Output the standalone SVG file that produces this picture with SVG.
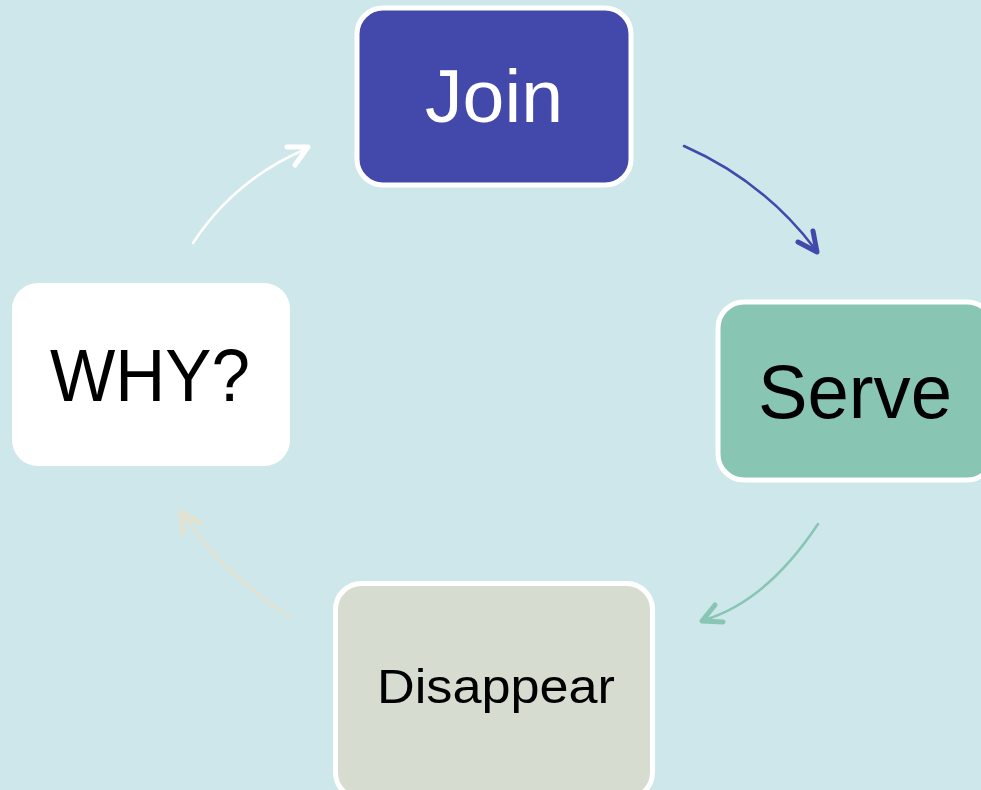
<svg xmlns="http://www.w3.org/2000/svg" width="981" height="790" viewBox="0 0 981 790">
<style>
.box{stroke:#ffffff;stroke-width:5}
.lbl{font-family:"Liberation Sans","DejaVu Sans",Arial,sans-serif;text-anchor:middle}
.conn{fill:none;stroke-width:2.5;stroke-linecap:round}
.head{fill:none;stroke-width:5;stroke-linecap:round;stroke-linejoin:round}
</style>
<rect x="0" y="0" width="981" height="790" fill="#CEE7EB"/>
<g id="node-join">
<rect class="box" x="357" y="8" width="274" height="177" rx="26" fill="#4349AA"/>
<text class="lbl" x="494" y="122" font-size="75" fill="#ffffff" textLength="138" lengthAdjust="spacingAndGlyphs">Join</text>
</g>
<g id="node-serve">
<rect class="box" x="718" y="302" width="275" height="178" rx="26" fill="#88C5B2"/>
<text class="lbl" x="855" y="418" font-size="76" fill="#000000" textLength="194" lengthAdjust="spacingAndGlyphs">Serve</text>
</g>
<g id="node-disappear">
<rect class="box" x="335.5" y="583.5" width="317" height="215" rx="26" fill="#D7DCD0"/>
<text class="lbl" x="496" y="703" font-size="48" fill="#000000" textLength="238" lengthAdjust="spacingAndGlyphs">Disappear</text>
</g>
<g id="node-why">
<rect x="12" y="283" width="278" height="183" rx="26" fill="#ffffff"/>
<text class="lbl" x="150" y="401" font-size="75" fill="#000000" textLength="200" lengthAdjust="spacingAndGlyphs">WHY?</text>
</g>
<g id="connectors">
<path class="conn" stroke="#4349AA" d="M684,146 Q763.5,181 815,249"/>
<polyline class="head" stroke="#4349AA" points="798,242 817,252 813,231"/>
<path class="conn" stroke="#88C5B2" d="M818,524 Q766.5,601.5 704,620"/>
<polyline class="head" stroke="#88C5B2" points="715,605 702,621 723,622"/>
<path class="conn" stroke="#E3E2D0" d="M290,617 Q218.5,570 183,514"/>
<polyline class="head" stroke="#E3E2D0" points="183,533 181,512 200,523"/>
<path class="conn" stroke="#ffffff" d="M193,243 Q235,179 306,149"/>
<polyline class="head" stroke="#ffffff" points="287,147 308,147 295,165"/>
</g>
</svg>
